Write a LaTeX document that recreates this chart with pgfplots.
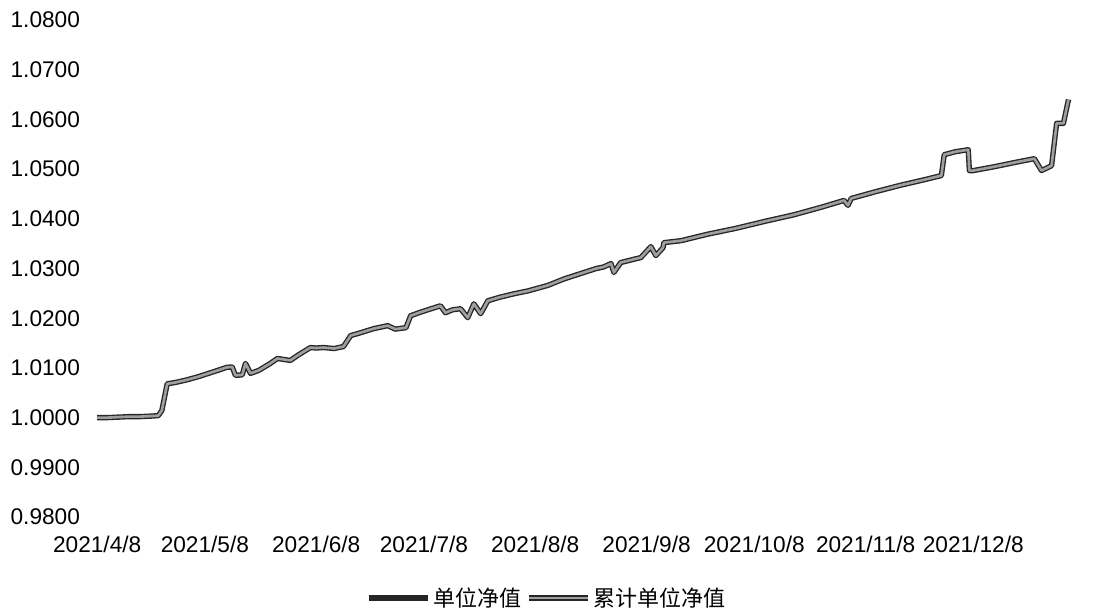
\documentclass[border=0pt]{standalone}
\usepackage{pgfplots}
\usepackage{pgfplotstable}
\usepackage{fontspec}
\pgfplotsset{compat=1.18}
\setmainfont{Liberation Sans}
\newfontfamily\cjk{Noto Sans CJK SC}

% day = days since 2021/4/8
\pgfplotstableread{
day   unit    cum
0     1.0000  1.0000
3     1.0000  1.0000
6     1.0001  1.0001
9     1.0002  1.0002
12    1.0002  1.0002
15    1.0003  1.0003
17    1.0004  1.0004
18    1.0014  1.0014
19.5  1.0068  1.0068
22    1.0071  1.0071
25    1.0076  1.0076
28    1.0082  1.0082
31    1.0089  1.0089
34    1.0096  1.0096
36    1.0101  1.0101
37.6  1.0102  1.0102
38.5  1.0085  1.0085
40.4  1.0086  1.0086
41.3  1.0109  1.0109
42.7  1.0089  1.0089
45    1.0095  1.0095
48    1.0108  1.0108
50.2  1.0119  1.0119
52    1.0117  1.0117
53.8  1.0115  1.0115
56    1.0126  1.0126
59.4  1.0141  1.0141
61    1.0140  1.0140
63    1.0141  1.0141
66    1.0139  1.0139
68.6  1.0143  1.0143
70.6  1.0165  1.0165
73    1.0170  1.0170
77    1.0179  1.0179
80.9  1.0185  1.0185
83    1.0178  1.0178
86    1.0181  1.0181
87.3  1.0205  1.0205
90    1.0212  1.0212
93    1.0219  1.0219
95.6  1.0225  1.0225
97    1.0211  1.0211
99    1.0217  1.0217
101.2 1.0219  1.0219
103.2 1.0201  1.0201
104.9 1.0229  1.0229
106.8 1.0209  1.0209
108.8 1.0235  1.0235
112   1.0242  1.0242
116   1.0249  1.0249
120   1.0255  1.0255
125.5 1.0266  1.0266
130   1.0279  1.0279
134.7 1.0290  1.0290
139   1.0300  1.0300
141   1.0303  1.0303
143.1 1.0310  1.0310
143.9 1.0292  1.0292
145.8 1.0312  1.0312
148   1.0316  1.0316
151.4 1.0322  1.0322
154.2 1.0344  1.0344
155.6 1.0326  1.0326
157.6 1.0342  1.0342
157.8 1.0352  1.0352
162.6 1.0356  1.0356
170   1.0369  1.0369
178   1.0381  1.0381
186   1.0395  1.0395
194   1.0408  1.0408
202   1.0424  1.0424
208   1.0437  1.0437
209.1 1.0427  1.0427
210   1.0441  1.0441
217   1.0455  1.0455
224   1.0468  1.0468
230   1.0478  1.0478
235.1 1.0487  1.0487
235.9 1.0529  1.0529
239   1.0535  1.0535
242.6 1.0539  1.0539
242.9 1.0497  1.0497
244   1.0497  1.0497
250   1.0505  1.0505
256   1.0514  1.0514
261   1.0521  1.0521
263   1.0497  1.0497
265.8 1.0507  1.0507
267.2 1.0592  1.0592
269.1 1.0592  1.0592
270.5 1.0640  1.0640
}\navdata

\begin{document}
\begin{tikzpicture}[x=1pt,y=1pt]
\begin{axis}[
    scale only axis,
    width=750pt,
    height=372.75pt,
    xmin=-2, xmax=276.5,
    ymin=0.98, ymax=1.08,
    ytick={0.98,0.99,...,1.081},
    xtick={0,30,61,91,122,153,183,214,244},
    xticklabels={2021/4/8,2021/5/8,2021/6/8,2021/7/8,2021/8/8,2021/9/8,2021/10/8,2021/11/8,2021/12/8},
    axis line style={draw=none},
    major tick style={draw=none},
    tick label style={font=\fontsize{17}{19}\selectfont},
    /pgf/number format/assume math mode=true,
    scaled y ticks=false,
    yticklabel style={xshift=-4pt,
        /pgf/number format/fixed,
        /pgf/number format/fixed zerofill,
        /pgf/number format/precision=4},
    xticklabel style={yshift=-11pt},
    legend style={at={(0.457,-0.163)}, anchor=center, draw=none,
        font=\cjk\fontsize{16.5}{18}\selectfont, legend columns=2,
        /tikz/every even column/.append style={column sep=2pt}},
    legend cell align=left,
    clip=false,
]
\addplot[black!85, line width=4pt, line join=round,
    legend image code/.code={
      \draw[black!85,line width=4pt] (0pt,0pt) -- (44pt,0pt);}]
    table[x=day,y=unit] {\navdata};
\addlegendentry{单位净值}
\addplot[gray!75, line width=2pt, line join=round,
    legend image code/.code={
      \draw[black!85,line width=4pt] (0pt,0pt) -- (44pt,0pt);
      \draw[gray!75,line width=2pt] (0pt,0pt) -- (44pt,0pt);}]
    table[x=day,y=cum] {\navdata};
\addlegendentry{累计单位净值}
\end{axis}
\pgfresetboundingbox
\path (-67.5pt,-70.5pt) rectangle (759pt,387.75pt);
\end{tikzpicture}
\end{document}
